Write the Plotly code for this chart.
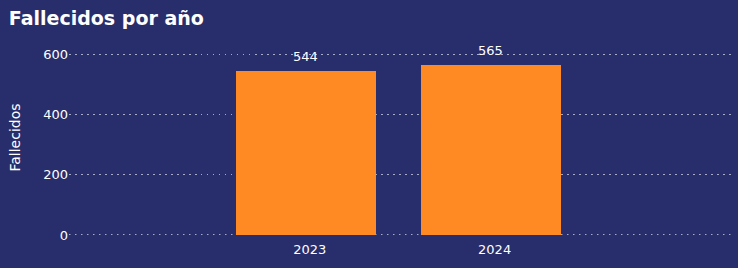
import plotly.graph_objects as go

years = [2023, 2024]
deaths = [544, 565]
y_ticks = [0, 200, 400, 600]

bg = "#282d6b"
grid_col = "rgba(190,195,215,0.85)"
fig = go.Figure(go.Bar(
    x=years, y=deaths, width=0.757,
    marker=dict(color="#ff8922", line=dict(width=0)),
    cliponaxis=False,
))
for x, v in zip(years, deaths):
    fig.add_annotation(x=x, y=v, text=str(v), showarrow=False, yanchor="bottom",
                       yshift=5, font=dict(color="white", size=13, family="DejaVu Sans"))
fig.add_shape(type="line", xref="paper", x0=0, x1=1, yref="y",
              ysizemode="pixel", yanchor=0, y0=0.5, y1=0.5,
              line=dict(color=grid_col, width=1, dash="1.5px,4.5px"), layer="below")
fig.update_layout(
    width=738, height=268,
    margin=dict(l=69, r=7, t=40, b=33),
    paper_bgcolor=bg, plot_bgcolor=bg,
    font=dict(family="DejaVu Sans", color="white", size=13),
    title=dict(text="<b>Fallecidos por año</b>", x=0.012, xanchor="left",
               y=0.955, yanchor="top", font=dict(size=19, color="white", family="DejaVu Sans")),
    xaxis=dict(range=[2021.72, 2025.3], tickvals=years, ticktext=[str(y) for y in years],
               showgrid=False, zeroline=False, showline=False, ticks="",
               ticklabelstandoff=5, ticklabelshift=4,
               tickfont=dict(size=13, color="white")),
    yaxis=dict(range=[0, 648], tickvals=y_ticks, showgrid=True,
               gridcolor=grid_col, griddash="1.5px,4.5px", gridwidth=1,
               zeroline=False, showline=False, ticks="",
               title=dict(text="Fallecidos", font=dict(size=14, color="white"), standoff=19),
               tickfont=dict(size=13, color="white")),
    showlegend=False, bargap=0,
)
fig.write_html("out.html")
